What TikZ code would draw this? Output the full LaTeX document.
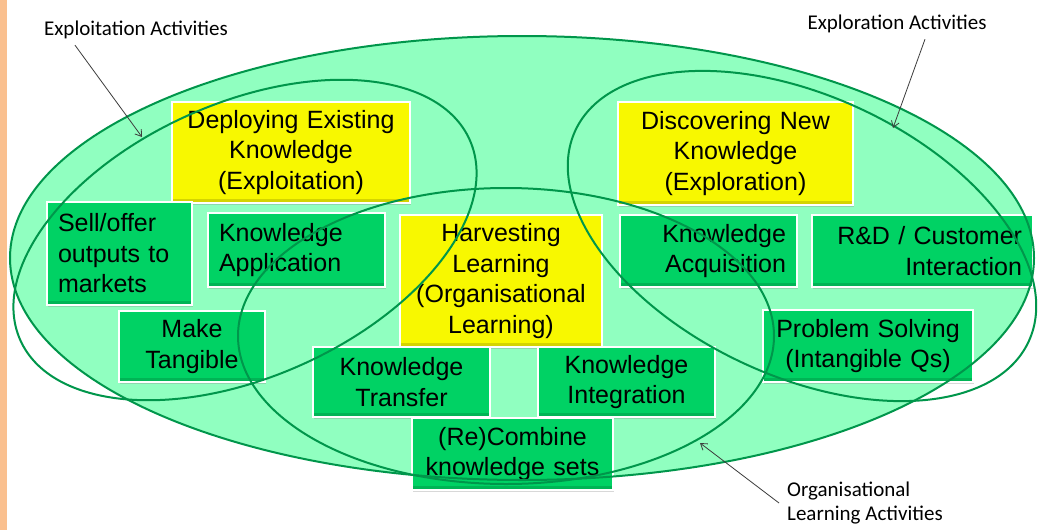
\documentclass[tikz,border=0pt]{standalone}
\usepackage{fontspec}
\newfontfamily\boxfont{Liberation Sans}
\newfontfamily\notefont{Carlito}
\usetikzlibrary{shadows,arrows.meta}
\definecolor{sidebar}{RGB}{250,192,143}
\definecolor{ringfill}{RGB}{144,255,192}
\definecolor{ringline}{RGB}{0,150,75}
\definecolor{boxgreen}{RGB}{0,210,100}
\definecolor{boxyellow}{RGB}{248,248,0}
\definecolor{arrowgrey}{RGB}{60,60,60}
\tikzset{
  card/.style={draw=white, line width=2.5pt, inner xsep=11pt, inner ysep=0pt,
    font=\boxfont\fontsize{25}{30.5}\selectfont,
    drop shadow={shadow xshift=1pt, shadow yshift=-2pt, opacity=.3},
    path picture={\fill[black,opacity=.14] (path picture bounding box.south west)
      rectangle ([yshift=4pt]path picture bounding box.south east);}},
  greencard/.style={card, fill=boxgreen},
  yellowcard/.style={card, fill=boxyellow},
  ring/.style={draw=ringline, line width=2pt},
  note/.style={font=\notefont\fontsize{21}{24}\selectfont, inner sep=0pt},
  pointer/.style={draw=arrowgrey, line width=.8pt, -{Straight Barb[length=6pt,width=8pt]}},
}
\begin{document}
\begin{tikzpicture}[x=1pt,y=-1pt]
  \useasboundingbox (0,0) rectangle (1046,530);
  \fill[white] (0,0) rectangle (1046,530);
  \fill[sidebar] (0,0) rectangle (7,530);
  \fill[ringfill] (522,258) ellipse [x radius=512, y radius=222];

  % the three headline boxes
  \node[yellowcard, text width=216pt, minimum height=101pt, align=center] (deploy) at (291,152.5)
    {Deploying Existing\\Knowledge\\(Exploitation)};
  \node[yellowcard, text width=213pt, minimum height=103pt, align=center] (discover) at (735.5,153.5)
    {Discovering New\\Knowledge\\(Exploration)};
  \node[yellowcard, text width=180pt, minimum height=132pt, align=center] (harvest) at (501,281)
    {Harvesting\\Learning\\(Organisational\\Learning)};

  % activities
  \node[greencard, text width=123pt, minimum height=103pt, align=left] (sell) at (119.5,253.5)
    {Sell/offer\\outputs to\\markets};
  \node[greencard, text width=155pt, minimum height=74pt, align=left] (kapp) at (296.5,250)
    {Knowledge\\Application};
  \node[greencard, text width=124pt, minimum height=71pt, align=center] (tangible) at (192,346.5)
    {Make\\Tangible};
  \node[greencard, text width=155pt, minimum height=70pt, align=center] (ktransfer) at (401.5,382)
    {Knowledge\\Transfer};
  \node[greencard, text width=155pt, minimum height=70pt, align=center] (kinteg) at (626.5,382)
    {Knowledge\\Integration};
  \node[greencard, text width=179pt, minimum height=72pt, align=center] (recombine) at (512.5,454)
    {(Re)Combine\\knowledge sets};
  \node[greencard, text width=155pt, minimum height=72pt, align=right] (kacq) at (708.5,251)
    {Knowledge\\Acquisition};
  \node[greencard, text width=199pt, minimum height=72pt, align=right] (rnd) at (922.5,251)
    {R\&D / Customer\\Interaction};
  \node[greencard, text width=188pt, minimum height=72pt, align=center] (problem) at (868,346)
    {Problem Solving\\(Intangible Qs)};

  % rings over the boxes
  \draw[ring] (522,258) ellipse [x radius=512, y radius=222];
  \draw[ring, rotate around={24:(245,240)}] (245,240) ellipse [x radius=246, y radius=137];
  \draw[ring, rotate around={-25:(802,236)}] (802,236) ellipse [x radius=250, y radius=140];
  \draw[ring] (506,336) ellipse [x radius=268, y radius=148];

  \node[note] (exploitlbl) at (136,30) {Exploitation Activities};
  \node[note] (explorelbl) at (897,24) {Exploration Activities};
  \node[note, anchor=west, align=left] (orglbl) at (787,503) {Organisational\\Learning Activities};

  \coordinate (exploittip) at (142,137);
  \coordinate (exploretip) at (893,128);
  \coordinate (orgtip) at (700,443);
  \draw[pointer] ([xshift=-61pt,yshift=-6pt]exploitlbl.south) -- (exploittip);
  \draw[pointer] ([xshift=28pt,yshift=-6pt]explorelbl.south) -- (exploretip);
  \draw[pointer] ([xshift=-8pt]orglbl.west) -- (orgtip);
\end{tikzpicture}
\end{document}
